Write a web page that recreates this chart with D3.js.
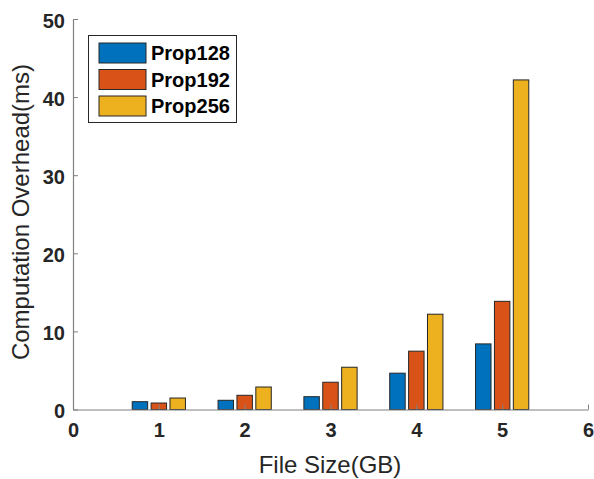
<!DOCTYPE html>
<html>
<head>
<meta charset="utf-8">
<script src="https://cdn.jsdelivr.net/npm/d3@7"></script>
<style>
  body { margin: 0; background: #fff; }
  text { font-family: "Liberation Sans", Arial, sans-serif; }
</style>
</head>
<body>
<svg id="chart" width="594" height="479"></svg>
<script>
// data
var fileSizes = [1, 2, 3, 4, 5];
var seriesNames = ["Prop128", "Prop192", "Prop256"];
var prop128 = [1.0, 1.18, 1.64, 4.65, 8.4];
var prop192 = [0.83, 1.82, 3.49, 7.47, 13.85];
var prop256 = [1.47, 2.88, 5.41, 12.2, 42.2];
var xTicks = [0, 1, 2, 3, 4, 5, 6];
var yTicks = [0, 10, 20, 30, 40, 50];

var colors = ["#0072BD", "#D95319", "#EDB120"];
var series = [prop128, prop192, prop256];

var svg = d3.select("svg");
var axisColor = "#808080", textColor = "#262626";

var x = d3.scaleLinear().domain([0, 6]).range([73, 588]);
var y = d3.scaleLinear().domain([0, 50]).range([409.5, 19]);

// bar geometry in data units
var barW = 0.18, pitch = 0.22;

var bars = svg.append("g");
series.forEach(function (vals, s) {
    bars.selectAll(null)
        .data(vals)
        .enter().append("rect")
        .attr("x", function (d, i) { return x(fileSizes[i] + (s - 1) * pitch - barW / 2); })
        .attr("width", x(barW) - x(0))
        .attr("y", function (d) { return y(d); })
        .attr("height", function (d) { return y(0) - y(d); })
        .style("fill", colors[s])
        .style("stroke", "#262626")
        .style("stroke-width", 1);
});

// y axis, ticks inward
var yAxis = svg.append("g")
    .attr("transform", "translate(" + x(0) + ",0)")
    .call(d3.axisLeft(y).tickValues(yTicks).tickFormat(d3.format("d"))
        .tickSizeInner(-5).tickSizeOuter(0).tickPadding(8));

// x axis, ticks inward
var xAxis = svg.append("g")
    .attr("transform", "translate(0," + y(0) + ")")
    .call(d3.axisBottom(x).tickValues(xTicks).tickFormat(d3.format("d"))
        .tickSizeInner(-5).tickSizeOuter(0).tickPadding(12));

[xAxis, yAxis].forEach(function (a) {
    a.select(".domain").style("stroke", axisColor).style("stroke-width", 1.2);
    a.selectAll(".tick line").style("stroke", axisColor);
    a.selectAll(".tick text")
        .style("font-size", "20px")
        .style("font-weight", "bold")
        .style("fill", textColor);
});
xAxis.selectAll(".tick text").attr("dy", "0.75em");
yAxis.selectAll(".tick text").attr("dy", "0.42em");

// axis titles
svg.append("text")
    .attr("x", 330)
    .attr("y", 473)
    .attr("text-anchor", "middle")
    .style("font-size", "24px")
    .style("fill", textColor)
    .text("File Size(GB)");

svg.append("text")
    .attr("transform", "translate(29,212) rotate(-90)")
    .attr("text-anchor", "middle")
    .style("font-size", "24px")
    .style("fill", textColor)
    .text("Computation Overhead(ms)");

// legend
var legend = svg.append("g");
legend.append("rect")
    .attr("x", 88.5).attr("y", 35.5)
    .attr("width", 148).attr("height", 87)
    .style("fill", "#fff")
    .style("stroke", "#262626")
    .style("stroke-width", 1);

seriesNames.forEach(function (name, i) {
    legend.append("rect")
        .attr("x", 99).attr("y", 43 + i * 26.5)
        .attr("width", 47).attr("height", 20)
        .style("fill", colors[i])
        .style("stroke", "#262626");
    legend.append("text")
        .attr("x", 151).attr("y", 53 + i * 26.5)
        .attr("dy", "0.35em")
        .style("font-size", "20px")
        .style("font-weight", "bold")
        .style("fill", "#000")
        .text(name);
});
</script>
</body>
</html>
